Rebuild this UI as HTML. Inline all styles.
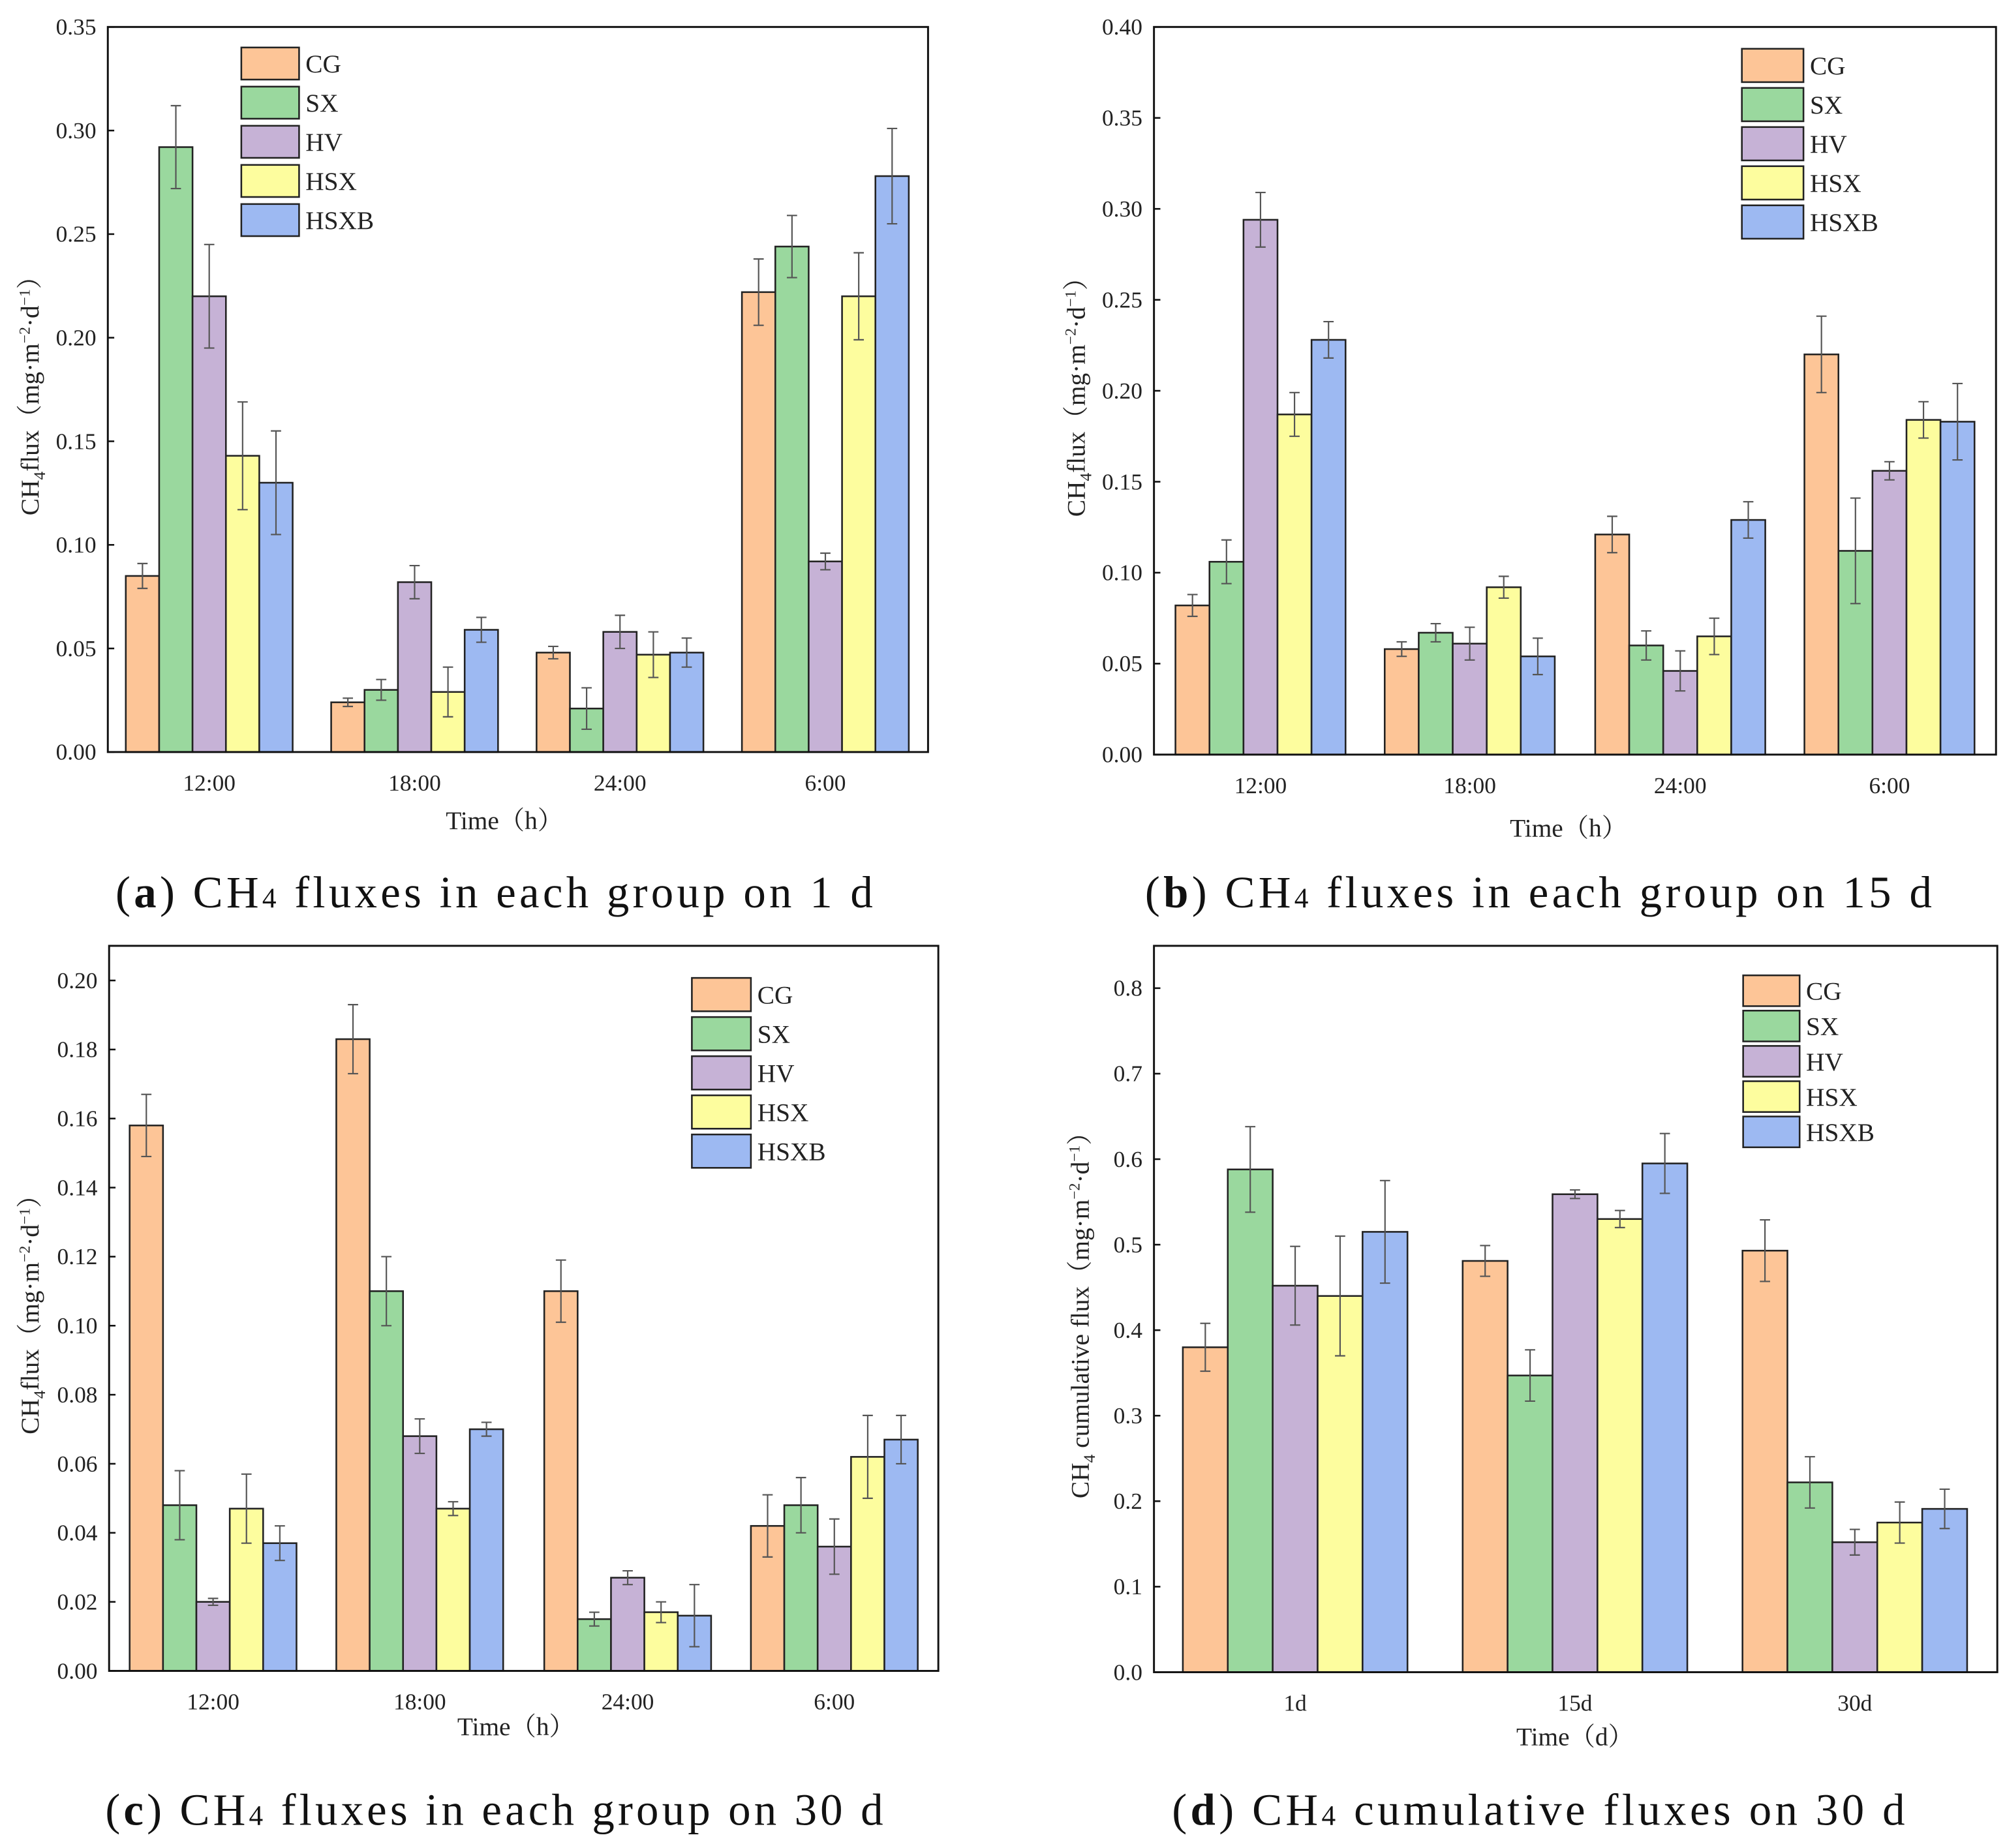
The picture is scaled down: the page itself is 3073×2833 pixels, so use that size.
<!DOCTYPE html>
<html><head><meta charset="utf-8"><style>
html,body{margin:0;padding:0;background:#fff;}
svg{display:block;font-family:"Liberation Serif","Noto Serif CJK SC",serif;}
</style></head><body>
<svg id="fig" width="3073" height="2833" viewBox="0 0 1562 1440" xmlns="http://www.w3.org/2000/svg"></svg>
<script>
const seriesNames = ["CG","SX","HV","HSX","HSXB"];
const seriesColors = ["#fdc597","#9ad89e","#c6b2d6","#fdfd9e","#9db9f2"];

const aCategories = ["12:00","18:00","24:00","6:00"];
const aCG   = [0.085,0.024,0.048,0.222];
const aSX   = [0.292,0.030,0.021,0.244];
const aHV   = [0.220,0.082,0.058,0.092];
const aHSX  = [0.143,0.029,0.047,0.220];
const aHSXB = [0.130,0.059,0.048,0.278];
const aErrCG=[0.006,0.002,0.003,0.016], aErrSX=[0.020,0.005,0.010,0.015], aErrHV=[0.025,0.008,0.008,0.004], aErrHSX=[0.026,0.012,0.011,0.021], aErrHSXB=[0.025,0.006,0.007,0.023];
const aTicks = [0,0.05,0.10,0.15,0.20,0.25,0.30,0.35];

const bCategories = ["12:00","18:00","24:00","6:00"];
const bCG   = [0.082,0.058,0.121,0.220];
const bSX   = [0.106,0.067,0.060,0.112];
const bHV   = [0.294,0.061,0.046,0.156];
const bHSX  = [0.187,0.092,0.065,0.184];
const bHSXB = [0.228,0.054,0.129,0.183];
const bErrCG=[0.006,0.004,0.010,0.021], bErrSX=[0.012,0.005,0.008,0.029], bErrHV=[0.015,0.009,0.011,0.005], bErrHSX=[0.012,0.006,0.010,0.010], bErrHSXB=[0.010,0.010,0.010,0.021];
const bTicks = [0,0.05,0.10,0.15,0.20,0.25,0.30,0.35,0.40];

const cCategories = ["12:00","18:00","24:00","6:00"];
const cCG   = [0.158,0.183,0.110,0.042];
const cSX   = [0.048,0.110,0.015,0.048];
const cHV   = [0.020,0.068,0.027,0.036];
const cHSX  = [0.047,0.047,0.017,0.062];
const cHSXB = [0.037,0.070,0.016,0.067];
const cErrCG=[0.009,0.010,0.009,0.009], cErrSX=[0.010,0.010,0.002,0.008], cErrHV=[0.001,0.005,0.002,0.008], cErrHSX=[0.010,0.002,0.003,0.012], cErrHSXB=[0.005,0.002,0.009,0.007];
const cTicks = [0,0.02,0.04,0.06,0.08,0.10,0.12,0.14,0.16,0.18,0.20];

const dCategories = ["1d","15d","30d"];
const dCG   = [0.380,0.481,0.493];
const dSX   = [0.588,0.347,0.222];
const dHV   = [0.452,0.559,0.152];
const dHSX  = [0.440,0.530,0.175];
const dHSXB = [0.515,0.595,0.191];
const dErrCG=[0.028,0.018,0.036], dErrSX=[0.050,0.030,0.030], dErrHV=[0.046,0.005,0.015], dErrHSX=[0.070,0.010,0.024], dErrHSXB=[0.060,0.035,0.023];
const dTicks = [0,0.1,0.2,0.3,0.4,0.5,0.6,0.7,0.8];

const NS="http://www.w3.org/2000/svg";
const svg=document.getElementById('fig');
function mk(tag,attrs,parent,text){const e=document.createElementNS(NS,tag);for(const k in attrs)e.setAttribute(k,attrs[k]);if(text!==undefined)e.textContent=text;(parent||svg).appendChild(e);return e;}

function panel(cfg){
  const g=mk('g',{});
  
  
  const {x0,x1,y0,y1,max,ticks,dec}=cfg;
  const yS=v=>y0-(v/max)*(y0-y1);
  cfg.vals.forEach((ser,si)=>{
    ser.forEach((v,ci)=>{
      const cx=cfg.centers[ci];
      const bx=cx-cfg.bw*2.5+si*cfg.bw;
      const r=mk('rect',{x:bx,y:yS(v),width:cfg.bw,height:y0-yS(v),fill:seriesColors[si],stroke:'#222','stroke-width':1.3},g);
      
      
      const e=cfg.errs[si][ci];const mx=bx+cfg.bw/2;
      const eb=mk('path',{d:`M${mx},${yS(v+e)}V${yS(v-e)}M${mx-4},${yS(v+e)}h8M${mx-4},${yS(v-e)}h8`,stroke:'#555','stroke-width':1.1,fill:'none'},g);
      
      
    });
  });
  const fr=mk('rect',{x:x0,y:y1,width:x1-x0,height:y0-y1,fill:'none',stroke:'#111','stroke-width':1.5},g);
  
  
  ticks.forEach(t=>{
    mk('line',{x1:x0,x2:x0+5,y1:yS(t),y2:yS(t),stroke:'#111','stroke-width':1.3},g);
    const tl=mk('text',{x:x0-9,y:yS(t)+6,'text-anchor':'end','font-size':18,fill:'#222'},g,t.toFixed(dec));
    
    
  });
  cfg.cats.forEach((c,ci)=>{
    const tl=mk('text',{x:cfg.centers[ci],y:y0+30,'text-anchor':'middle','font-size':18,fill:'#222'},g,c);
    
    
  });
  const xt=mk('text',{x:cfg.xtX,y:cfg.xtY,'text-anchor':'middle','font-size':20,fill:'#222'},g,cfg.xtitle);
  
  
  const yt=mk('text',{transform:`translate(${cfg.ytX},${(y0+y1)/2}) rotate(-90)`,'text-anchor':'middle','font-size':20,fill:'#222'},g);
  
  
  yt.innerHTML=cfg.ytitle;
  seriesNames.forEach((n,si)=>{
    const ly=cfg.ly+si*cfg.lsp;
    const lr=mk('rect',{x:cfg.lx,y:ly,width:cfg.lw,height:cfg.lh,fill:seriesColors[si],stroke:'#222','stroke-width':1.3},g);
    
    
    const lt=mk('text',{x:cfg.lx+cfg.lw+5,y:ly+cfg.lh/2+7,'font-size':20,fill:'#222'},g,n);
    
    
  });
  const cap=mk('text',{x:cfg.capX,y:cfg.capY,'font-size':35,fill:'#111',textLength:cfg.capW,lengthAdjust:'spacing'},g);
  
  
  cap.innerHTML=cfg.cap;
}
const flux='CH<tspan font-size="13" dy="5">4</tspan><tspan dy="-5">flux（mg·m</tspan><tspan font-size="12" dy="-7">−2</tspan><tspan dy="7">·d</tspan><tspan font-size="12" dy="-7">−1</tspan><tspan dy="7">）</tspan>';
const cum='CH<tspan font-size="13" dy="5">4</tspan><tspan dy="-5"> cumulative flux（mg·m</tspan><tspan font-size="12" dy="-7">−2</tspan><tspan dy="7">·d</tspan><tspan font-size="12" dy="-7">−1</tspan><tspan dy="7">）</tspan>';
const capT=(l,t)=>`(<tspan font-weight="bold">${l}</tspan>) CH<tspan font-size="22">4</tspan> ${t}`;

panel({id:'a',x0:84,x1:723,y0:586,y1:21,max:0.35,ticks:aTicks,dec:2,cats:aCategories,centers:[163,323,483,643],bw:26,
 vals:[aCG,aSX,aHV,aHSX,aHSXB],errs:[aErrCG,aErrSX,aErrHV,aErrHSX,aErrHSXB],xtitle:'Time（h）',xtX:393,xtY:646,ytX:30,ytitle:flux,
 lx:188,ly:37,lw:45,lh:25,lsp:30.5,capX:90,capW:590,capY:707,cap:capT('a','fluxes in each group on 1 d')});
panel({id:'b',x0:899,x1:1555,y0:588,y1:21,max:0.40,ticks:bTicks,dec:2,cats:bCategories,centers:[982,1145,1309,1472],bw:26.5,
 vals:[bCG,bSX,bHV,bHSX,bHSXB],errs:[bErrCG,bErrSX,bErrHV,bErrHSX,bErrHSXB],xtitle:'Time（h）',xtX:1222,xtY:652,ytX:845,ytitle:flux,
 lx:1357,ly:38,lw:48,lh:26,lsp:30.5,capX:892,capW:613,capY:707,cap:capT('b','fluxes in each group on 15 d')});
panel({id:'c',x0:85,x1:731,y0:1302,y1:737,max:0.20*(1302-737)/(1302-764),ticks:cTicks,dec:2,cats:cCategories,centers:[166,327,489,650],bw:26,
 vals:[cCG,cSX,cHV,cHSX,cHSXB],errs:[cErrCG,cErrSX,cErrHV,cErrHSX,cErrHSXB],xtitle:'Time（h）',xtX:402,xtY:1352,ytX:30,ytitle:flux,
 lx:539,ly:762,lw:46,lh:26,lsp:30.5,capX:82,capW:606,capY:1422,cap:capT('c','fluxes in each group on 30 d')});
panel({id:'d',x0:899,x1:1556,y0:1303,y1:737,max:0.8*(1303-737)/(1303-770),ticks:dTicks,dec:1,cats:dCategories,centers:[1009,1227,1445],bw:35,
 vals:[dCG,dSX,dHV,dHSX,dHSXB],errs:[dErrCG,dErrSX,dErrHV,dErrHSX,dErrHSXB],xtitle:'Time（d）',xtX:1227,xtY:1360,ytX:848,ytitle:cum,
 lx:1358,ly:760,lw:44,lh:24,lsp:27.5,capX:913,capW:571,capY:1422,cap:capT('d','cumulative fluxes on 30 d')});
</script>
</body></html>
